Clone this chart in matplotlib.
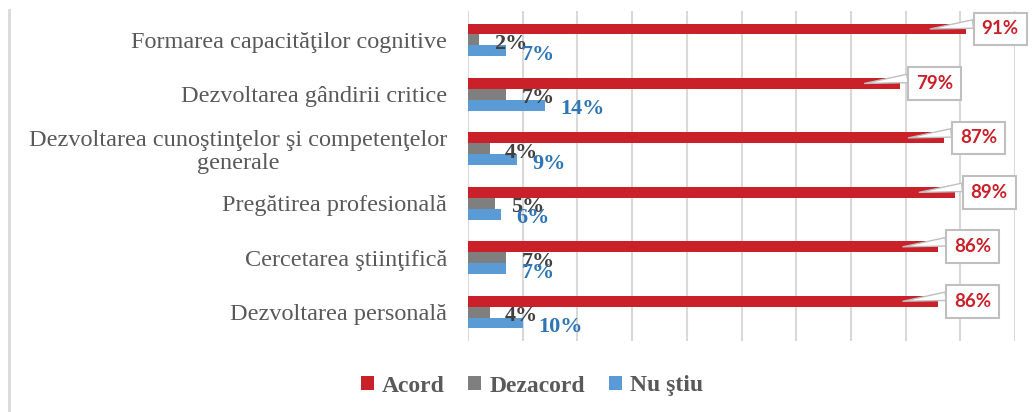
import matplotlib
matplotlib.use("Agg")
import matplotlib.pyplot as plt
from matplotlib.lines import Line2D
from matplotlib.patches import Patch
import numpy as np

categories = [
    "Formarea capacităţilor cognitive",
    "Dezvoltarea gândirii critice",
    "Dezvoltarea cunoştinţelor şi competenţelor\ngenerale",
    "Pregătirea profesională",
    "Cercetarea ştiinţifică",
    "Dezvoltarea personală",
]
acord = [91, 79, 87, 89, 86, 86]
dezacord = [2, 7, 4, 5, 7, 4]
nu_stiu = [7, 14, 9, 6, 7, 10]
series_names = ["Acord", "Dezacord", "Nu ştiu"]

RED = "#c9202a"
GRAY = "#7f7f7f"
BLUE = "#5b9bd5"
TEXT = "#595959"

W, H = 1034, 412
fig = plt.figure(figsize=(W / 100, H / 100), dpi=100)
ax = fig.add_axes([468 / W, 1 - 341 / H, (1015 - 468) / W, (341 - 11) / H])

y = np.arange(len(categories))
h = 0.2
ax.barh(y - h, acord, height=h, color=RED, zorder=2)
ax.barh(y, dezacord, height=h, color=GRAY, zorder=2)
ax.barh(y + h, nu_stiu, height=h, color=BLUE, zorder=2)

ax.set_xlim(0, 100)
ax.set_ylim(len(categories) - 0.47, -0.53)
ax.set_xticks(np.arange(0, 101, 10))
ax.xaxis.grid(True, color="#d9d9d9", linewidth=1.5, zorder=0)
ax.tick_params(axis="x", length=0, labelbottom=False)
ax.tick_params(axis="y", length=0, pad=15)
ax.set_yticks(y)
ax.set_yticklabels(categories, fontfamily="Liberation Serif", fontsize=17.5,
                   color=TEXT, multialignment="center", linespacing=1.1)
for s in ax.spines.values():
    s.set_visible(False)

# value labels for the small bars
for i in range(len(categories)):
    ax.annotate(f"{dezacord[i]}%", (dezacord[i], y[i]), xytext=(11, -3),
                textcoords="offset points", ha="left", va="center",
                fontfamily="Liberation Serif", fontweight="bold", fontsize=16,
                color="#404040", zorder=4)
    ax.annotate(f"{nu_stiu[i]}%", (nu_stiu[i], y[i] + h), xytext=(11, -3),
                textcoords="offset points", ha="left", va="center",
                fontfamily="Liberation Serif", fontweight="bold", fontsize=16,
                color="#2e75b6", zorder=4)

# callout labels for the "Acord" bars
for i in range(len(categories)):
    ax.annotate(
        f"{acord[i]}%", xy=(acord[i] - 6.5, y[i] - h),
        xytext=(acord[i] + 2.9, y[i] - h), textcoords="data",
        ha="left", va="center", fontfamily="Lato", fontweight="bold",
        fontsize=13.5, color=RED, zorder=5,
        bbox=dict(boxstyle="square,pad=0.42", fc="white", ec="#bfbfbf", lw=1.5),
        arrowprops=dict(arrowstyle="wedge,tail_width=0.45,shrink_factor=0.5",
                        fc="white", ec="#bfbfbf", lw=1.0, relpos=(0.0, 0.85),
                        shrinkA=0, shrinkB=0),
    )

handles = [Patch(facecolor=c, edgecolor="none") for c in (RED, GRAY, BLUE)]
fig.legend(handles, series_names, loc="center", bbox_to_anchor=(532 / W, 1 - 386 / H),
           ncol=3, frameon=False, handlelength=0.55, handleheight=0.55,
           handletextpad=0.35, columnspacing=1.0,
           prop=dict(family="Liberation Serif", weight="bold", size=17),
           labelcolor=TEXT)

fig.add_artist(Line2D([9 / W, 9 / W], [0, 1 - 10 / H], transform=fig.transFigure,
                      color="#d9d9d9", linewidth=2))

fig.savefig("out.png", dpi=100, facecolor="white")
